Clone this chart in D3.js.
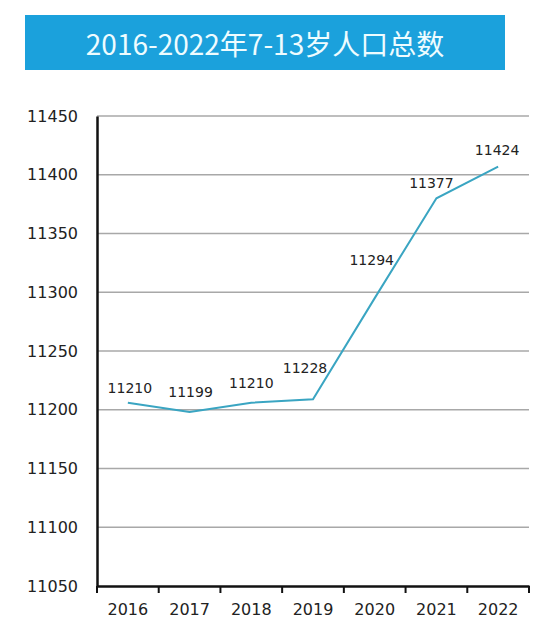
<html>
  <head>
    <style>
      body {
        margin: 0;
        background: #fff;
      }
      .grid line {
        stroke: #a8a8a8;
        stroke-width: 1.5px;
      }
      .axis text {
        font-family: "DejaVu Sans", sans-serif;
        fill: #222;
      }
    </style>
  </head>
  <body>
    <script src="https://d3js.org/d3.v7.min.js"></script>
    <script>
      var width = 550, height = 641;

      var years = ["2016", "2017", "2018", "2019", "2020", "2021", "2022"];
      // line as drawn in the picture
      var values = [11206, 11198, 11206, 11209, 11295, 11380, 11407];
      // numbers printed beside the points
      var labels = ["11210", "11199", "11210", "11228", "11294", "11377", "11424"];
      var yTicks = [11050, 11100, 11150, 11200, 11250, 11300, 11350, 11400, 11450];

      // small nudges so labels sit where they do in the original
      var labelDx = [2, 1, 0, -8, -3, -5, -1];
      var labelDy = [-10, -15, -15, -26, -33, -10, -12];

      var margin = { top: 116, right: 21, bottom: 55, left: 97 };
      var plotW = width - margin.left - margin.right,
          plotH = height - margin.top - margin.bottom;

      var svg = d3.select("body").append("svg")
          .attr("width", width)
          .attr("height", height);

      // title banner
      svg.append("rect")
          .attr("x", 25)
          .attr("y", 15)
          .attr("width", 480)
          .attr("height", 55)
          .attr("fill", "#1ba1dc");

      svg.append("text")
          .attr("x", 265)
          .attr("y", 43)
          .attr("text-anchor", "middle")
          .attr("dominant-baseline", "central")
          .style("font-family", "'Noto Sans CJK SC', sans-serif")
          .style("font-size", "28px")
          .attr("fill", "#eefcff")
          .text("2016-2022年7-13岁人口总数");

      var g = svg.append("g")
          .attr("transform", "translate(" + margin.left + "," + margin.top + ")");

      var x = d3.scaleBand()
          .domain(years)
          .range([0, plotW]);

      var y = d3.scaleLinear()
          .domain([11050, 11450])
          .range([plotH, 0]);

      // gridlines
      g.append("g")
          .attr("class", "grid")
          .selectAll("line")
          .data(yTicks.slice(1))
        .enter().append("line")
          .attr("x1", 0)
          .attr("x2", plotW)
          .attr("y1", function(d){ return y(d); })
          .attr("y2", function(d){ return y(d); });

      // y axis
      var yAxis = g.append("g")
          .attr("class", "axis")
          .call(d3.axisLeft(y).tickValues(yTicks).tickSize(0).tickPadding(19).tickFormat(d3.format("d")));
      yAxis.select(".domain").attr("stroke", "#111").attr("stroke-width", 2.5);
      yAxis.selectAll("text").style("font-size", "16px");

      // x axis, ticks on band edges
      var xAxis = g.append("g")
          .attr("class", "axis")
          .attr("transform", "translate(0," + plotH + ")")
          .call(d3.axisBottom(x).tickSize(0).tickPadding(18));
      xAxis.select(".domain").attr("stroke", "#111").attr("stroke-width", 2.5);
      xAxis.selectAll("text").style("font-size", "16px");

      var edges = years.map(function(d){ return x(d); }).concat([plotW]);
      xAxis.selectAll(".edge")
          .data(edges)
        .enter().append("line")
          .attr("class", "edge")
          .attr("x1", function(d){ return d; })
          .attr("x2", function(d){ return d; })
          .attr("y1", 0)
          .attr("y2", 7)
          .attr("stroke", "#111")
          .attr("stroke-width", 2);

      var cx = function(d, i){ return x(years[i]) + x.bandwidth() / 2; };

      var line = d3.line()
          .x(function(d, i){ return cx(d, i); })
          .y(function(d){ return y(d); });

      g.append("path")
          .datum(values)
          .attr("d", line)
          .attr("fill", "none")
          .attr("stroke", "#3aa5c2")
          .attr("stroke-width", 2);

      g.selectAll(".label")
          .data(values)
        .enter().append("text")
          .attr("class", "label")
          .attr("x", function(d, i){ return cx(d, i) + labelDx[i]; })
          .attr("y", function(d, i){ return y(d) + labelDy[i]; })
          .attr("text-anchor", "middle")
          .style("font-family", "'DejaVu Sans', sans-serif")
          .style("font-size", "14px")
          .attr("fill", "#222")
          .text(function(d, i){ return labels[i]; });
    </script>
  </body>
</html>
